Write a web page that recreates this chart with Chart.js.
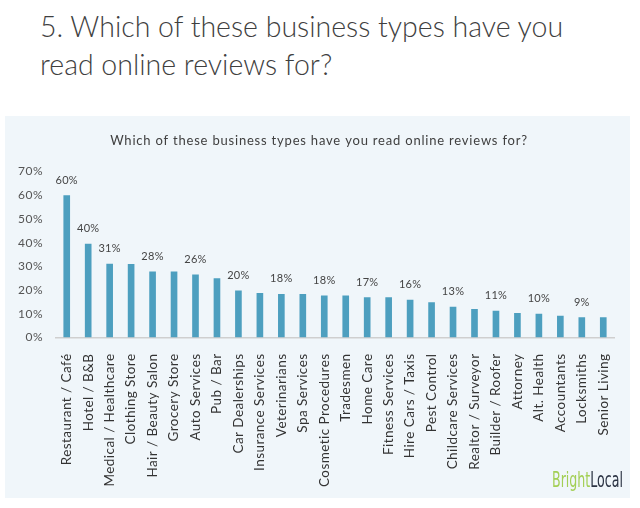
<!DOCTYPE html>
<html>
<head>
<meta charset="utf-8">
<script src="https://cdn.jsdelivr.net/npm/chart.js@4.4.0/dist/chart.umd.min.js"></script>
<style>
  html, body { margin: 0; padding: 0; background: #fff; }
  body { width: 640px; height: 508px; position: relative; overflow: hidden; }
  #heading {
    position: absolute; left: 40px; top: 7px;
    font-family: 'Lato', sans-serif; font-weight: 300;
    font-size: 28.5px; line-height: 38px; color: #3f3f3f;
  }
  #panel {
    position: absolute; left: 5px; top: 116px;
    width: 625px; height: 382px; background: #f0f6fa;
  }
</style>
</head>
<body>
<div id="heading">5. Which of these business types have you<br>read online reviews for?</div>
<div id="panel"><canvas id="myChart" width="625" height="382"></canvas></div>
<script>
var businessTypes = ['Restaurant / Café', 'Hotel / B&B', 'Medical / Healthcare', 'Clothing Store',
  'Hair / Beauty Salon', 'Grocery Store', 'Auto Services', 'Pub / Bar', 'Car Dealerships',
  'Insurance Services', 'Veterinarians', 'Spa Services', 'Cosmetic Procedures', 'Tradesmen',
  'Home Care', 'Fitness Services', 'Hire Cars / Taxis', 'Pest Control', 'Childcare Services',
  'Realtor / Surveyor', 'Builder / Roofer', 'Attorney', 'Alt. Health', 'Accountants',
  'Locksmiths', 'Senior Living'];
var readPercent = [60, 39.6, 31.1, 31, 27.9, 27.9, 26.6, 25, 19.8, 18.8, 18.4, 18.4, 17.7, 17.7,
  17, 17, 15.9, 14.9, 13, 12, 11.3, 10.3, 10, 9.2, 8.5, 8.5];
// only every other bar carries a label in the original
var barLabels = ['60%', '40%', '31%', null, '28%', null, '26%', null, '20%', null, '18%', null,
  '18%', null, '17%', null, '16%', null, '13%', null, '11%', null, '10%', null, '9%', null];
var yTicks = [0, 10, 20, 30, 40, 50, 60, 70];

// the original Excel text is loosely spaced, so widen letters per element
function spaced(obj, name, spacing, dx) {
  if (!obj || obj['_sp_' + name]) return;
  var orig = obj[name];
  obj[name] = function () {
    var c = this.ctx;
    c.save();
    c.letterSpacing = spacing;
    if (dx) c.translate(dx, 0);
    orig.apply(this, arguments);
    c.restore();
  };
  obj['_sp_' + name] = true;
}

var spacingPlugin = {
  id: 'spacing',
  afterLayout: function (chart) {
    spaced(chart.scales.x, 'drawLabels', '0.45px');
    spaced(chart.scales.y, 'drawLabels', '0.5px');
    // title is centred on the whole panel, not the padded box
    spaced(chart.titleBlock, 'draw', '0.8px', 9.5);
  }
};

var barLabelPlugin = {
  id: 'barLabels',
  afterDatasetsDraw: function (chart) {
    var ctx = chart.ctx;
    var meta = chart.getDatasetMeta(0);
    ctx.save();
    ctx.font = '11px Lato';
    ctx.letterSpacing = '0.3px';
    ctx.fillStyle = '#444';
    ctx.textAlign = 'center';
    ctx.textBaseline = 'middle';
    meta.data.forEach(function (bar, i) {
      if (barLabels[i]) ctx.fillText(barLabels[i], bar.x, bar.y - 15);
    });
    ctx.restore();
  }
};

var logoPlugin = {
  id: 'logo',
  afterDraw: function (chart) {
    var ctx = chart.ctx;
    ctx.save();
    ctx.font = '21px "Liberation Sans Narrow", "DejaVu Sans Condensed", sans-serif';
    var w1 = ctx.measureText('Bright').width;
    var w2 = ctx.measureText('Local').width;
    var sx = 71 / (w1 + w2);
    ctx.translate(547, 371);
    ctx.scale(sx, 1);
    ctx.textBaseline = 'alphabetic';
    ctx.fillStyle = '#a3cf55';
    ctx.fillText('Bright', 0, 0);
    ctx.fillStyle = '#2c3444';
    ctx.fillText('Local', w1, 0);
    ctx.restore();
  }
};

var ctx = document.getElementById('myChart').getContext('2d');
var myChart = new Chart(ctx, {
  type: 'bar',
  data: {
    labels: businessTypes,
    datasets: [{
      data: readPercent,
      backgroundColor: '#4d9fbf',
      barPercentage: 0.31,
      categoryPercentage: 1
    }]
  },
  options: {
    responsive: false,
    animation: false,
    layout: { padding: { left: 0, right: 16, top: 0, bottom: 0 } },
    plugins: {
      legend: { display: false },
      tooltip: { enabled: false },
      title: {
        display: true,
        text: 'Which of these business types have you read online reviews for?',
        color: '#404040',
        font: { family: 'Lato', size: 13, weight: 'normal' },
        padding: { top: 17, bottom: 23 }
      }
    },
    scales: {
      y: {
        min: 0,
        max: 70,
        afterFit: function (scale) { scale.width = 51; },
        afterBuildTicks: function (scale) {
          scale.ticks = yTicks.map(function (v) { return { value: v }; });
        },
        grid: { display: false },
        border: { display: false },
        ticks: {
          color: '#555',
          font: { family: 'Lato', size: 12 },
          padding: 5,
          callback: function (v) { return v + '%'; }
        }
      },
      x: {
        afterFit: function (scale) { scale.height = 160.5; },
        grid: { display: false },
        border: { display: true, color: '#cfcfcf', width: 1.5 },
        ticks: {
          color: '#333',
          font: { family: 'Lato', size: 13.5 },
          minRotation: 90,
          maxRotation: 90,
          autoSkip: false,
          padding: 8
        }
      }
    }
  },
  plugins: [spacingPlugin, barLabelPlugin, logoPlugin]
});
</script>
</body>
</html>
